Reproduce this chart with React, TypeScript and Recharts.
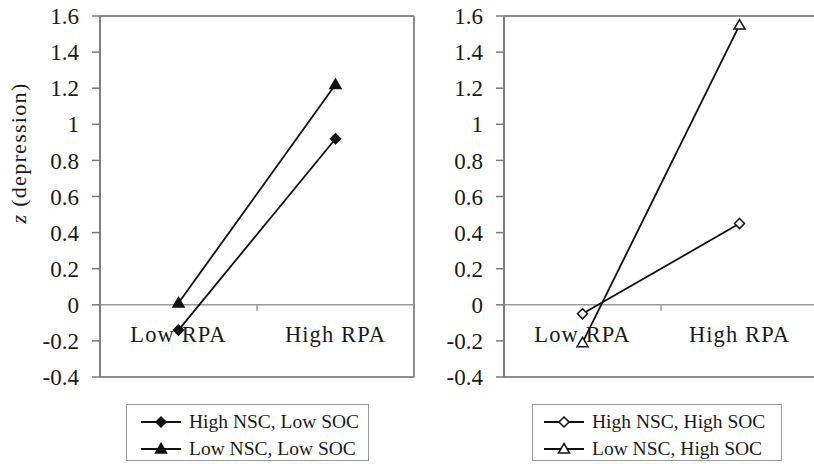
import { CartesianGrid, Label, Line, LineChart, ReferenceLine, XAxis, YAxis } from "recharts";

const categories = ["Low RPA", "High RPA"];
const highNscLowSoc = [-0.14, 0.92];
const lowNscLowSoc = [0.01, 1.22];
const highNscHighSoc = [-0.05, 0.45];
const lowNscHighSoc = [-0.21, 1.55];
const yTicks = [-0.4, -0.2, 0, 0.2, 0.4, 0.6, 0.8, 1, 1.2, 1.4, 1.6];

const Y_MIN = -0.4;
const Y_MAX = 1.6;
const PLOT_TOP = 16;
const PLOT_H = 361;
const PLOT_W = 314;
const CHART_H = PLOT_TOP + PLOT_H + 13;

const FONT = '"Liberation Serif", "Times New Roman", serif';
const INK = "#111";
const TEXT = "#1a1a1a";
const FRAME = "#8c8c8c";

type Shape = "diamond" | "triangle";

function Marker({ cx, cy, shape, filled }: { cx: number; cy: number; shape: Shape; filled: boolean }) {
  const d =
    shape === "diamond"
      ? `M${cx} ${cy - 5}L${cx + 5} ${cy}L${cx} ${cy + 5}L${cx - 5} ${cy}Z`
      : `M${cx} ${cy - 5.5}L${cx + 5.5} ${cy + 4}L${cx - 5.5} ${cy + 4}Z`;
  return <path d={d} fill={filled ? INK : "#fff"} stroke={INK} strokeWidth={1.5} />;
}

const makeDot = (shape: Shape, filled: boolean) => (p: any) =>
  <Marker key={`${shape}-${filled}-${p.index}`} cx={p.cx} cy={p.cy} shape={shape} filled={filled} />;

function CategoryTick(props: any) {
  const { x, payload, index } = props;
  const zeroY = PLOT_TOP + (PLOT_H * Y_MAX) / (Y_MAX - Y_MIN);
  return (
    <g>
      {index === 0 && (
        <line x1={x + PLOT_W / 4} x2={x + PLOT_W / 4} y1={zeroY} y2={zeroY + 6} stroke="#9a9a9a" strokeWidth={1.5} />
      )}
      <text x={x} y={zeroY + 37} textAnchor="middle" fill={TEXT} fontSize={22.5} fontFamily={FONT} letterSpacing={1.1}>
        {payload.value}
      </text>
    </g>
  );
}

function YTitle() {
  return (
    <text
      transform="translate(26, 153) rotate(-90)"
      textAnchor="middle"
      fill={TEXT}
      fontSize={22}
      fontFamily={FONT}
      letterSpacing={1.3}
    >
      <tspan fontStyle="italic">z</tspan> (depression)
    </text>
  );
}

function LegendIcon({ shape, filled }: { shape: Shape; filled: boolean }) {
  return (
    <svg width={40} height={14} style={{ display: "block" }}>
      <line x1={0} x2={40} y1={7} y2={7} stroke={INK} strokeWidth={1.8} />
      <Marker cx={20} cy={7} shape={shape} filled={filled} />
    </svg>
  );
}

type LegendItem = { label: string; shape: Shape; filled: boolean };

function LegendBox({ left, width, pad, items }: { left: number; width: number; pad: number; items: LegendItem[] }) {
  return (
    <div
      style={{
        position: "absolute",
        left,
        top: 404,
        width,
        height: 57,
        border: "1px solid #999",
        boxSizing: "border-box",
        fontFamily: FONT,
        fontSize: 19.5,
        color: TEXT,
        paddingTop: 3,
      }}
    >
      {items.map((it) => (
        <div key={it.label} style={{ display: "flex", alignItems: "center", height: 27, paddingLeft: pad }}>
          <LegendIcon shape={it.shape} filled={it.filled} />
          <span style={{ marginLeft: 8, whiteSpace: "nowrap" }}>{it.label}</span>
        </div>
      ))}
    </div>
  );
}

const leftData = categories.map((name, i) => ({
  name,
  highNscLowSoc: highNscLowSoc[i],
  lowNscLowSoc: lowNscLowSoc[i],
}));

const rightData = categories.map((name, i) => ({
  name,
  highNscHighSoc: highNscHighSoc[i],
  lowNscHighSoc: lowNscHighSoc[i],
}));

function Panel({
  data,
  yAxisWidth,
  width,
  series,
  withTitle,
}: {
  data: any[];
  yAxisWidth: number;
  width: number;
  series: Array<{ key: string; shape: Shape; filled: boolean }>;
  withTitle?: boolean;
}) {
  return (
    <LineChart
      width={width}
      height={CHART_H}
      data={data}
      margin={{ top: PLOT_TOP, right: width - yAxisWidth - PLOT_W, bottom: 0, left: 0 }}
    >
      {/* grid used only as the plot frame */}
      <CartesianGrid
        stroke={FRAME}
        strokeWidth={2}
        horizontalCoordinatesGenerator={({ offset }: any) => [offset.top, offset.top + offset.height]}
        verticalCoordinatesGenerator={({ offset }: any) => [offset.left, offset.left + offset.width]}
      />
      <ReferenceLine y={0} stroke="#9a9a9a" strokeWidth={1.5} />
      <XAxis
        dataKey="name"
        stroke={FRAME}
        strokeWidth={2}
        tickLine={false}
        interval={0}
        height={13}
        padding={{ left: PLOT_W / 4, right: PLOT_W / 4 }}
        tick={<CategoryTick />}
      />
      <YAxis
        type="number"
        domain={[Y_MIN, Y_MAX]}
        ticks={yTicks}
        interval={0}
        width={yAxisWidth}
        allowDataOverflow
        stroke="#7a7a7a"
        strokeWidth={1.5}
        tickSize={8}
        tickMargin={13}
        tick={{ fill: TEXT, fontSize: 23, fontFamily: FONT }}
      >
        {withTitle && <Label content={<YTitle />} />}
      </YAxis>
      {series.map((s) => (
        <Line
          key={s.key}
          type="linear"
          dataKey={s.key}
          stroke={INK}
          strokeWidth={1.8}
          dot={makeDot(s.shape, s.filled)}
          activeDot={false}
          isAnimationActive={false}
        />
      ))}
    </LineChart>
  );
}

export default function App() {
  return (
    <div
      style={{
        position: "absolute",
        left: 0,
        top: 0,
        width: 814,
        height: 464,
        overflow: "hidden",
        background: "#fff",
      }}
    >
      <div style={{ position: "absolute", left: 0, top: 0 }}>
        <Panel
          data={leftData}
          yAxisWidth={100}
          width={420}
          withTitle
          series={[
            { key: "highNscLowSoc", shape: "diamond", filled: true },
            { key: "lowNscLowSoc", shape: "triangle", filled: true },
          ]}
        />
      </div>
      <div style={{ position: "absolute", left: 420, top: 0 }}>
        <Panel
          data={rightData}
          yAxisWidth={84}
          width={400}
          series={[
            { key: "highNscHighSoc", shape: "diamond", filled: false },
            { key: "lowNscHighSoc", shape: "triangle", filled: false },
          ]}
        />
      </div>
      <LegendBox
        left={126}
        width={243}
        pad={14}
        items={[
          { label: "High NSC, Low SOC", shape: "diamond", filled: true },
          { label: "Low NSC, Low SOC", shape: "triangle", filled: true },
        ]}
      />
      <LegendBox
        left={532}
        width={250}
        pad={11}
        items={[
          { label: "High NSC, High SOC", shape: "diamond", filled: false },
          { label: "Low NSC, High SOC", shape: "triangle", filled: false },
        ]}
      />
    </div>
  );
}
